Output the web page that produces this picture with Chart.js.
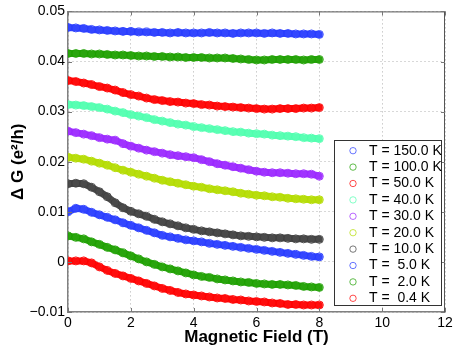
<!DOCTYPE html>
<html lang="fr">
<head>
<meta charset="utf-8">
<title>Delta G en fonction du champ magnétique</title>
<script src="https://cdn.jsdelivr.net/npm/chart.js@4.4.1/dist/chart.umd.min.js"></script>
<style>
    html, body { margin: 0; padding: 0; background: #fff; }
</style>
</head>
<body>
<canvas id="delta-g-chart" width="457" height="350"></canvas>
<script>
// Données (champ en T, ΔG en e²/h)
const fieldT = [0, 0.25, 0.5, 0.75, 1, 1.25, 1.5, 1.75, 2, 2.25, 2.5, 2.75, 3, 3.25, 3.5, 3.75,
    4, 4.25, 4.5, 4.75, 5, 5.25, 5.5, 5.75, 6, 6.25, 6.5, 6.75, 7, 7.25, 7.5, 7.75, 8];

const dg150K = [0.0468, 0.0467, 0.0466, 0.0464, 0.0463, 0.0462, 0.0461, 0.0460, 0.0460, 0.0459, 0.0459,
    0.0458, 0.0458, 0.0457, 0.0458, 0.0457, 0.0457, 0.0457, 0.0458, 0.0457, 0.0457, 0.0456, 0.0457,
    0.0457, 0.0457, 0.0456, 0.0457, 0.0456, 0.0456, 0.0455, 0.0455, 0.0455, 0.0454];
const dg100K = [0.0416, 0.0416, 0.0416, 0.0415, 0.0415, 0.0414, 0.0413, 0.0413, 0.0412, 0.0411, 0.0411,
    0.0410, 0.0410, 0.0409, 0.0409, 0.0408, 0.0408, 0.0408, 0.0407, 0.0407, 0.0407, 0.0406, 0.0405,
    0.0404, 0.0403, 0.0403, 0.0404, 0.0404, 0.0404, 0.0404, 0.0403, 0.0404, 0.0404];
const dg50K = [0.0362, 0.0360, 0.0357, 0.0354, 0.0350, 0.0347, 0.0343, 0.0338, 0.0334, 0.0331, 0.0327,
    0.0324, 0.0322, 0.0320, 0.0319, 0.0317, 0.0316, 0.0314, 0.0313, 0.0311, 0.0310, 0.0309, 0.0308,
    0.0307, 0.0306, 0.0305, 0.0305, 0.0306, 0.0306, 0.0306, 0.0307, 0.0307, 0.0308];
const dg40K = [0.0314, 0.0313, 0.0312, 0.0310, 0.0308, 0.0305, 0.0301, 0.0298, 0.0294, 0.0291, 0.0288,
    0.0284, 0.0281, 0.0278, 0.0275, 0.0273, 0.0270, 0.0268, 0.0266, 0.0264, 0.0262, 0.0260, 0.0259,
    0.0257, 0.0256, 0.0255, 0.0253, 0.0252, 0.0251, 0.0250, 0.0248, 0.0247, 0.0246];
const dg30K = [0.0261, 0.0258, 0.0255, 0.0252, 0.0248, 0.0245, 0.0243, 0.0236, 0.0231, 0.0227, 0.0223,
    0.0220, 0.0217, 0.0214, 0.0212, 0.0210, 0.0208, 0.0204, 0.0200, 0.0196, 0.0193, 0.0190, 0.0187,
    0.0184, 0.0181, 0.0179, 0.0178, 0.0178, 0.0177, 0.0176, 0.0176, 0.0175, 0.0171];
const dg20K = [0.0209, 0.0207, 0.0205, 0.0201, 0.0197, 0.0193, 0.0188, 0.0183, 0.0179, 0.0175, 0.0171,
    0.0167, 0.0163, 0.0160, 0.0157, 0.0154, 0.0151, 0.0149, 0.0146, 0.0144, 0.0142, 0.0140, 0.0137,
    0.0135, 0.0133, 0.0132, 0.0130, 0.0129, 0.0127, 0.0126, 0.0125, 0.0124, 0.0124];
const dg10K = [0.0156, 0.0157, 0.0156, 0.0149, 0.0140, 0.0130, 0.0118, 0.0108, 0.0101, 0.0096, 0.0091,
    0.0085, 0.0080, 0.0076, 0.0072, 0.0068, 0.0065, 0.0062, 0.0060, 0.0058, 0.0056, 0.0054, 0.0052,
    0.0051, 0.0050, 0.0049, 0.0048, 0.0048, 0.0047, 0.0046, 0.0046, 0.0045, 0.0045];
const dg5K = [0.0100, 0.0107, 0.0105, 0.0099, 0.0094, 0.0089, 0.0084, 0.0078, 0.0073, 0.0068, 0.0063,
    0.0058, 0.0053, 0.0050, 0.0047, 0.0044, 0.0042, 0.0040, 0.0037, 0.0035, 0.0033, 0.0031, 0.0029,
    0.0027, 0.0025, 0.0023, 0.0021, 0.0019, 0.0017, 0.0015, 0.0013, 0.0011, 0.0010];
const dg2K = [0.0052, 0.0049, 0.0046, 0.0040, 0.0035, 0.0029, 0.0024, 0.0018, 0.0012, 0.0006, 0.0000,
    -0.0005, -0.0010, -0.0014, -0.0018, -0.0022, -0.0026, -0.0029, -0.0031, -0.0034, -0.0036, -0.0038,
    -0.0040, -0.0041, -0.0043, -0.0044, -0.0045, -0.0045, -0.0046, -0.0047, -0.0049, -0.0050, -0.0051];
const dg04K = [0.0002, 0.0002, 0.0002, -0.0002, -0.0010, -0.0017, -0.0023, -0.0028, -0.0033, -0.0038,
    -0.0043, -0.0048, -0.0053, -0.0057, -0.0061, -0.0064, -0.0066, -0.0068, -0.0070, -0.0072, -0.0073,
    -0.0075, -0.0076, -0.0078, -0.0079, -0.0080, -0.0082, -0.0083, -0.0085, -0.0085, -0.0086, -0.0086, -0.0086];

// Légendes et ticks
const seriesLabels = ['T = 150.0 K', 'T = 100.0 K', 'T = 50.0 K', 'T = 40.0 K', 'T = 30.0 K',
    'T = 20.0 K', 'T = 10.0 K', 'T =  5.0 K', 'T =  2.0 K', 'T =  0.4 K'];
const seriesValues = [dg150K, dg100K, dg50K, dg40K, dg30K, dg20K, dg10K, dg5K, dg2K, dg04K];
const xTicks = [0, 2, 4, 6, 8, 10, 12];
const yTicks = [-0.01, 0, 0.01, 0.02, 0.03, 0.04, 0.05];

// Couleurs façon Matlab
const COLORS = {
    BLUE: [40, 60, 255],
    GREEN: [30, 160, 0],
    RED: [255, 0, 0],
    CYAN: [80, 255, 175],
    PURPLE: [155, 40, 255],
    LIME: [180, 220, 0],
    GREY: [64, 64, 64]
};
const seriesColors = [COLORS.BLUE, COLORS.GREEN, COLORS.RED, COLORS.CYAN, COLORS.PURPLE,
    COLORS.LIME, COLORS.GREY, COLORS.BLUE, COLORS.GREEN, COLORS.RED];

const FONT = "'Liberation Sans', Arial, Helvetica, sans-serif";

function rgba(c, a) {
    return `rgba(${c[0]}, ${c[1]}, ${c[2]}, ${a})`;
}

/**
 * Cadre de l'axe (haut / droite) et petits ticks vers l'intérieur
 */
const framePlugin = {
    id: 'matlabFrame',
    afterDatasetsDraw(chart) {
        const { ctx, chartArea: a, scales } = chart;
        ctx.save();
        ctx.strokeStyle = '#555';
        ctx.lineWidth = 1;
        ctx.beginPath();
        ctx.moveTo(a.left, a.top + 0.5);
        ctx.lineTo(a.right - 0.5, a.top + 0.5);
        ctx.lineTo(a.right - 0.5, a.bottom);
        ctx.stroke();

        // Ticks intérieurs
        ctx.strokeStyle = '#777';
        ctx.beginPath();
        xTicks.forEach(v => {
            const px = Math.round(scales.x.getPixelForValue(v)) + 0.5;
            ctx.moveTo(px, a.bottom); ctx.lineTo(px, a.bottom - 4);
            ctx.moveTo(px, a.top); ctx.lineTo(px, a.top + 4);
        });
        yTicks.forEach(v => {
            const py = Math.round(scales.y.getPixelForValue(v)) + 0.5;
            ctx.moveTo(a.left, py); ctx.lineTo(a.left + 4, py);
            ctx.moveTo(a.right, py); ctx.lineTo(a.right - 4, py);
        });
        ctx.stroke();
        ctx.restore();
    }
};

/**
 * Légende dessinée dans la zone du graphique (coin bas droit)
 */
const legendPlugin = {
    id: 'insideLegend',
    afterDraw(chart) {
        const { ctx, chartArea: a } = chart;
        const boxW = 107, boxH = 165;
        const boxX = a.right - 111, boxY = 140;
        const rowH = 16.4;

        ctx.save();
        ctx.fillStyle = '#fff';
        ctx.fillRect(boxX, boxY, boxW, boxH);
        ctx.strokeStyle = '#333';
        ctx.lineWidth = 1;
        ctx.strokeRect(boxX + 0.5, boxY + 0.5, boxW, boxH);

        ctx.font = `14px ${FONT}`;
        ctx.textBaseline = 'middle';
        chart.data.datasets.forEach((ds, i) => {
            const cy = boxY + 10.7 + i * rowH;
            ctx.strokeStyle = rgba(seriesColors[i], 0.7);
            ctx.beginPath();
            ctx.arc(boxX + 19, cy, 3.2, 0, Math.PI * 2);
            ctx.stroke();
            ctx.fillStyle = '#000';
            ctx.fillText(ds.label, boxX + 35, cy);
        });
        ctx.restore();
    }
};

/**
 * Initialise le graphique ΔG(B)
 */
function initDeltaGChart() {
    const datasets = seriesValues.map((values, i) => ({
        label: seriesLabels[i],
        data: values.map((y, k) => ({ x: fieldT[k], y: y })),
        showLine: true,
        borderColor: rgba(seriesColors[i], 0.95),
        borderWidth: 7,
        borderCapStyle: 'round',
        borderJoinStyle: 'round',
        pointRadius: 4,
        pointBorderWidth: 1,
        pointBorderColor: rgba(seriesColors[i], 0.9),
        pointBackgroundColor: 'rgba(0,0,0,0)',
        tension: 0
    }));

    const ctx = document.getElementById('delta-g-chart').getContext('2d');
    new Chart(ctx, {
        type: 'scatter',
        data: { datasets },
        options: {
            responsive: false,
            animation: false,
            layout: { padding: { left: 0, right: 12, top: 11, bottom: 0 } },
            plugins: {
                legend: { display: false },
                tooltip: { enabled: false }
            },
            scales: {
                x: {
                    type: 'linear',
                    min: 0,
                    max: 12,
                    afterBuildTicks: scale => { scale.ticks = xTicks.map(v => ({ value: v })); },
                    afterFit: scale => { scale.height = 38; },
                    // border.dash : pointillés des lignes de grille (Chart.js v4)
                    border: { color: '#808080', width: 1.5, dash: [1, 3] },
                    grid: { color: '#b0b0b0', drawTicks: false },
                    ticks: {
                        padding: 3,
                        color: '#000',
                        font: { family: FONT, size: 14 },
                        maxRotation: 0
                    },
                    title: {
                        display: true,
                        text: 'Magnetic Field (T)',
                        color: '#000',
                        font: { family: FONT, size: 17, weight: 'bold' },
                        padding: { top: 0, bottom: 2 }
                    }
                },
                y: {
                    type: 'linear',
                    min: -0.01,
                    max: 0.05,
                    afterBuildTicks: scale => { scale.ticks = yTicks.map(v => ({ value: v })); },
                    afterFit: scale => { scale.width = 68; },
                    border: { color: '#808080', width: 1.5, dash: [1, 3] },
                    grid: { color: '#b0b0b0', drawTicks: false },
                    ticks: {
                        padding: 3,
                        color: '#000',
                        font: { family: FONT, size: 14 },
                        callback: v => Math.abs(v) < 1e-9 ? '0' : v.toFixed(2).replace('-', '\u2212')
                    },
                    title: {
                        display: true,
                        text: 'Δ G (e²/h)',
                        color: '#000',
                        font: { family: FONT, size: 17, weight: 'bold' },
                        padding: { top: 8, bottom: 0 }
                    }
                }
            }
        },
        plugins: [framePlugin, legendPlugin]
    });
}

initDeltaGChart();
</script>
</body>
</html>
